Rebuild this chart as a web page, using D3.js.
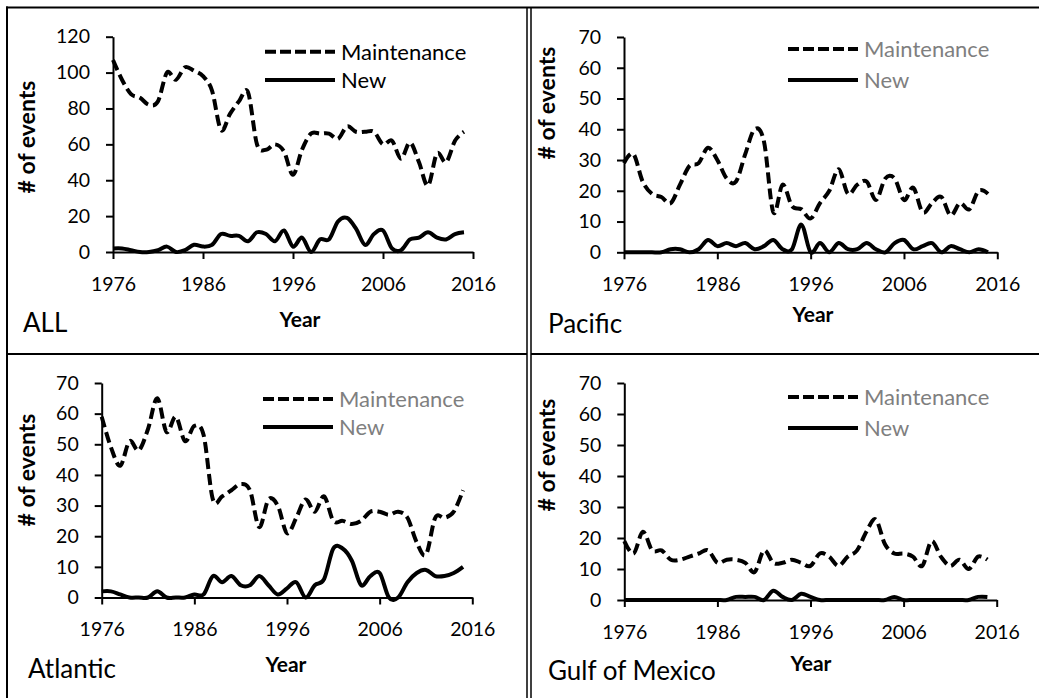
<!DOCTYPE html>
<html>
<head>
<meta charset="utf-8">
<script src="https://cdn.jsdelivr.net/npm/d3@7/dist/d3.min.js"></script>
<style>
html,body{margin:0;padding:0;background:#fff;}
svg{display:block;font-family:Lato,"Open Sans",sans-serif;}
</style>
</head>
<body>
<svg id="c" width="1039" height="698"></svg>
<script>
// ---- data ----
const years = [1976,1977,1978,1979,1980,1981,1982,1983,1984,1985,1986,1987,1988,1989,1990,1991,1992,1993,1994,1995,1996,1997,1998,1999,2000,2001,2002,2003,2004,2005,2006,2007,2008,2009,2010,2011,2012,2013,2014,2015];
const xTicks = [1976,1986,1996,2006,2016];
const seriesNames = ["Maintenance","New"];
const panelNames = ["ALL","Pacific","Atlantic","Gulf of Mexico"];

const allMaint = [107,96,88,86,82,84,100,96,103,101,98,90,68,77,84,89,60,57,60,56,43,57,66,66,66,63,70,67,67,67,60,62,52,61,50,37,55,50,62,67];
const allNew   = [2,2,1,0,0,1,3,0,1,4,3,4,10,9,9,6,11,10,6,12,3,8,0,7,7,17,19,13,4,10,12,2,1,7,8,11,8,7,10,11];

const pacMaint = [29,32,23,19,18,16,22,28,29,34,30,24,23,32,40,36,13,22,15,14,11,16,20,27,19,22,23,17,24,24,17,21,13,16,18,12,16,14,20,19];
const pacNew   = [0,0,0,0,0,1,1,0,1,4,2,3,2,3,1,2,4,1,1,9,0,3,0,3,1,1,3,1,0,3,4,1,2,3,0,2,1,0,1,0];

const atlMaint = [59,49,43,51,48,55,65,54,59,51,56,53,32,33,35,37,35,23,32,30,21,26,32,28,33,25,25,24,25,28,28,27,28,26,18,14,26,26,28,35];
const atlNew   = [2,2,1,0,0,0,2,0,0,0,1,1,7,5,7,4,4,7,4,1,3,5,0,4,6,16,16,12,4,7,8,0,0,5,8,9,7,7,8,10];

const gulfMaint = [19,15,22,16,16,13,13,14,15,16,12,13,13,12,9,16,12,12,13,12,11,15,14,11,14,16,22,26,18,15,15,14,11,19,14,11,13,10,14,13];
const gulfNew   = [0,0,0,0,0,0,0,0,0,0,0,0,1,1,1,0,3,1,0,2,1,0,0,0,0,0,0,0,0,1,0,0,0,0,0,0,0,0,1,1];

const yMaxes = [120,70,70,70];
const yTickSteps = [20,10,10,10];

// ---- layout ----
const panels = [
  {name:panelNames[0], m:allMaint,  n:allNew,  x0:113,   x1:473,   yT:36.7, yB:252,   legX:265, legY:[51.7,80],  legColor:"#000",
   title:[23,332], year:[300,327], ylab:[27,137]},
  {name:panelNames[1], m:pacMaint,  n:pacNew,  x0:624,   x1:997.3, yT:37,   yB:252.3, legX:788, legY:[49,80],    legColor:"#7f7f7f",
   title:[548,333], year:[813,322], ylab:[547,103]},
  {name:panelNames[2], m:atlMaint,  n:atlNew,  x0:101.7, x1:472.3, yT:383,  yB:597.5, legX:263, legY:[399,427],  legColor:"#7f7f7f",
   title:[28,678], year:[286,672], ylab:[27,470]},
  {name:panelNames[3], m:gulfMaint, n:gulfNew, x0:624.3, x1:996.7, yT:383,  yB:600,   legX:788, legY:[397,428],  legColor:"#7f7f7f",
   title:[548,680], year:[811,671], ylab:[547,455]}
];

const svg = d3.select("#c");

// borders
const bord = svg.append("g").attr("stroke","#000").attr("fill","none");
bord.append("line").attr("x1",6).attr("x2",1039).attr("y1",7.5).attr("y2",7.5).attr("stroke-width",2);
bord.append("line").attr("x1",7).attr("x2",7).attr("y1",6.5).attr("y2",698).attr("stroke-width",2);
bord.append("line").attr("x1",7).attr("x2",527).attr("y1",354).attr("y2",354).attr("stroke-width",2);
bord.append("line").attr("x1",531).attr("x2",1039).attr("y1",354).attr("y2",354).attr("stroke-width",2);
bord.append("line").attr("x1",527).attr("x2",527).attr("y1",7.5).attr("y2",698).attr("stroke-width",1.5);
bord.append("line").attr("x1",531).attr("x2",531).attr("y1",7.5).attr("y2",698).attr("stroke-width",1.5);

panels.forEach((p,i)=>{
  const g = svg.append("g");
  const x = d3.scaleLinear().domain([1976,2016]).range([p.x0,p.x1]);
  const y = d3.scaleLinear().domain([0,yMaxes[i]]).range([p.yB,p.yT]);
  const yt = d3.range(0,yMaxes[i]+0.001,yTickSteps[i]);

  const ya = g.append("g").attr("transform",`translate(${p.x0},0)`)
    .call(d3.axisLeft(y).tickValues(yt).tickSizeInner(7).tickSizeOuter(0).tickPadding(16).tickFormat(d3.format("d")));
  const xa = g.append("g").attr("transform",`translate(0,${p.yB})`)
    .call(d3.axisBottom(x).tickValues(xTicks).tickSizeInner(7).tickSizeOuter(0).tickPadding(18).tickFormat(d3.format("d")));
  [ya,xa].forEach(a=>{
    a.selectAll("path,line").attr("stroke","#000").attr("stroke-width",2);
    a.selectAll("text").attr("font-family","Lato").attr("font-size",19.5).attr("fill","#000");
  });

  const line = d3.line().x((d,k)=>x(years[k])).y(d=>y(d)).curve(d3.curveCardinal.tension(0));
  g.append("path").datum(p.n).attr("d",line).attr("fill","none").attr("stroke","#000")
    .attr("stroke-width",4).attr("stroke-linejoin","round");
  g.append("path").datum(p.m).attr("d",line).attr("fill","none").attr("stroke","#000")
    .attr("stroke-width",4).attr("stroke-dasharray","11,5").attr("stroke-linejoin","round");

  // legend
  seriesNames.forEach((s,k)=>{
    g.append("line").attr("x1",p.legX).attr("x2",p.legX+70).attr("y1",p.legY[k]).attr("y2",p.legY[k])
      .attr("stroke","#000").attr("stroke-width",4).attr("stroke-dasharray",k===0?"11,4":null);
    g.append("text").attr("x",p.legX+76).attr("y",p.legY[k]).attr("dy","0.36em")
      .attr("font-size",22).attr("fill",p.legColor).text(s);
  });

  // titles
  g.append("text").attr("x",p.title[0]).attr("y",p.title[1]).attr("font-size",26).attr("fill","#000").text(p.name);
  g.append("text").attr("x",p.year[0]).attr("y",p.year[1]).attr("text-anchor","middle")
    .attr("font-size",21).attr("font-weight","bold").attr("fill","#000").text("Year");
  g.append("text").attr("transform",`translate(${p.ylab[0]},${p.ylab[1]}) rotate(-90)`)
    .attr("text-anchor","middle").attr("dy","0.35em")
    .attr("font-size",23).attr("font-weight","bold").attr("fill","#000").text("# of events");
});
</script>
</body>
</html>
